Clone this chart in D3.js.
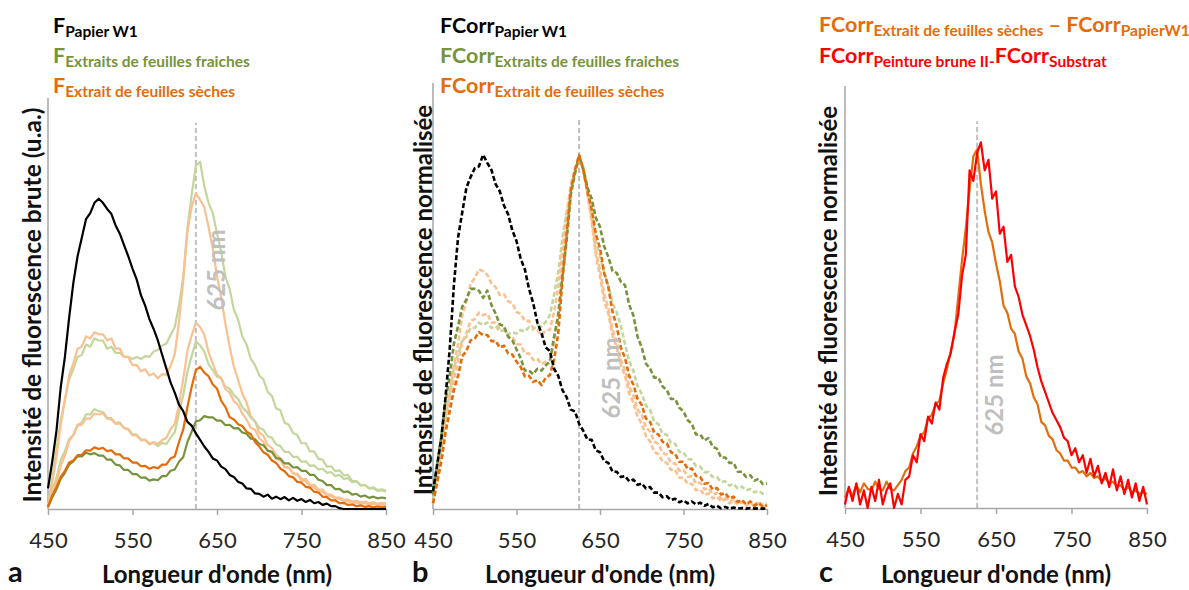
<!DOCTYPE html>
<html><head><meta charset="utf-8">
<script src="https://cdn.jsdelivr.net/npm/d3@7"></script>
<style>body{margin:0;background:#fff;} svg{display:block;font-family:Lato,'Open Sans',sans-serif;}</style>
</head><body>
<svg id="chart" width="1189" height="590"></svg>
<script>
const wavelengths = [450,455,460,465,470,475,480,485,490,495,500,505,510,515,520,525,530,535,540,545,550,555,560,565,570,575,580,585,590,595,600,605,610,615,620,625,630,635,640,645,650,655,660,665,670,675,680,685,690,695,700,705,710,715,720,725,730,735,740,745,750,755,760,765,770,775,780,785,790,795,800,805,810,815,820,825,830,835,840,845,850];
const xTicks = [450,550,650,750,850];
const refWavelength = 625;

// Panel a : raw intensity (u.a.)
const aPapier = [5,11.5,19,29.5,37,46.5,55,61.5,66,70.5, 72,74.5,75.5,74.5,73,71.8,69,67,64.2,61.5, 58.5,55.8,52,49.5,46.2,43.8,41,37.6,34.2,30.8, 28.3,25.4,23.8,21.2,20.3,18.4,16.8,15.2,13.9,12.3, 11.8,10.3,9.7,8.3,7.8,6.6,6.2,5,4.9,3.8, 3.7,3,3.5,2.5,3,2.4,2.9,2.1,2.7,2, 2.4,1.7,2.2,1.4,1.7,1,1.3,0.7,0.7,0.2, 0,0,0,0,0,0,0,0,0,0,0];
const aFraiches1 = [0.5,7.5,14.5,21.5,26.5,31.5,34,37,37.5,40, 39.5,41.5,41,41,39,39.5,38,38,37,37, 36.5,37,36.5,37.2,37,38.3,38.7,39.8,40.2,42.3, 44.3,49.5,56.5,68.3,76.5,83.5,84.5,78.5,74.5,72, 67,62.5,56.5,53.5,48.5,46,42,40,36.5,35, 32.5,31.5,28.5,27.5,24.5,24,21,20.5,18.5,18, 16,16,14,14,12.2,12,10.3,10.4,9.2,9.4, 8.2,8.3,6.8,6.8,5.8,5.8,5,5.1,4.4,4.6,4.2];
const aSeches1 = [0.5,6.5,12.5,20.5,26.5,32.5,35.5,39,39.5,42, 41.5,43,42.5,42.5,41,41.5,39,39,37,37, 35,35,33.5,34,32.5,33,31.8,32.8,32.7,34.8, 37.6,45.5,55.5,67.5,73.5,76.8,75.2,73.4,68.6,63.4, 56.6,51.4,45,39.4,34.6,31.4,28,25.9,22.6,21.3, 18.6,17.8,15.6,14.8,13.2,12.3,10.2,10.1,8.7,8.3, 6.9,6.8,5.5,5.3,4.2,4.3,3.3,3.2,2.5,2.5, 1.9,1.9,1.5,1.6,1.3,1.4,1.1,1.3,1,1.1,1];
const aFraiches2 = [0.5,4.5,7.5,12,14,17,18,20.5,21,23, 23,24.3,23.8,23.6,22.2,22.1,20.9,21.1,19.7,19.5, 18.2,18.1,16.9,16.9,15.9,16.1,15.3,16.1,15.8,17.3, 18.7,23.4,27.6,33.4,37.2,40.8,39.8,38.3,35.2,33.8, 32.2,31.8,29.7,29.3,27.7,26.8,24.7,23.8,22.2,21.3, 19.7,19.3,17.7,17.3,15.7,15.3,13.9,13.9,12.7,12.7, 11.5,11.6,10.5,10.6,9.6,9.8,8.8,9,8,8.3, 7.3,7.5,6.5,6.7,5.7,5.9,5,5.3,4.6,4.8,4.5];
const aSeches2 = [0.5,4,6.5,10.5,13,16.5,18,20.3,20.5,22, 22,23.2,23,23.3,22,21.8,20.7,20.8,19.7,19.3, 17.9,17.9,16.7,16.8,15.7,16.3,15.8,16.8,17.3,19.4, 20.7,25.5,31.6,38.5,42.2,45.3,44.3,42.4,38.2,35.4, 32.7,31.8,29.2,28.3,26.2,25.3,23.2,21.8,19.7,19.3, 17.2,16.3,14.2,13.8,12.2,11.8,10.2,10,8.7,8.6, 7.3,7.3,5.9,5.9,4.7,4.7,3.6,3.5,2.8,2.8, 2.2,2.3,1.8,2,1.6,1.8,1.4,1.7,1.3,1.5,1.4];
const aSeches3 = [0.5,3.3,5.3,7.8,9.3,11.3,11.8,13.1,13.2,14.3, 14.2,15,14.6,14.9,14.1,14.3,13.3,13.3,12.3,12.3, 11.3,11.3,10.4,10.5,9.8,10.2,9.9,10.8,10.8,12.3, 12.8,16.3,19.3,24.8,29.7,33.8,34.6,33.2,32.3,30.3, 29.3,26.3,24.8,22.3,21.8,20.6,20.2,18.8,18.2,16.3, 15.2,13.8,13.2,11.8,11.2,9.8,9.2,8,7.7,6.6, 6.4,5.4,5.2,4.2,4,3,2.9,2.1,2.1,1.4, 1.5,1,1.1,0.7,0.9,0.5,0.7,0.4,0.6,0.4,0.5];
const aFraiches3 = [0.5,2.8,4.8,7.3,8.8,10.8,11.6,12.8,12.8,13.7, 13.3,13.6,13,13,12,12,10.8,10.6,9.5,9.5, 8.5,8.5,7.6,7.7,6.9,7.2,7,8,8,9.3, 9.6,11.5,12.6,16.3,18.8,21.3,21.6,22.6,22.3,22.3, 21.5,21.5,20.4,20.5,19.6,19.7,18.6,18.3,17.1,17, 15.8,15.5,14.2,13.9,12.4,12.2,11.1,11.1,10.1,10.2, 9.3,9.3,8.3,8.3,7.1,6.8,5.8,5.8,4.8,4.9, 4.1,4.3,3.5,3.7,3,3.3,2.7,3,2.6,2.8,2.6];

// Panel b : normalised (%)
const bPapier = [5,12.5,20,31.5,45,63,76.5,83.5,90.5,93.5, 96,96.5,99.8,97.5,95.5,91.5,89.5,85.5,83,78.5, 75.5,70.5,67.5,62,58,52.5,49.5,45.5,44.5,39.5, 37.5,33.5,31.5,28,27.5,24,22,19.5,19.5,16.5, 16,13.5,13,10.5,10.5,9,9.3,7.8,8.3,6.8, 7.2,5.8,6.2,4.6,4.6,3.3,3.6,2.5,2.9,1.9, 2.4,1.6,2.1,1.3,1.8,0.9,1.4,0.5,0.9,0.2, 0.6,0.1,0.4,0.1,0.3,0.1,0.3,0.1,0.2,0.1,0.2];
const bFraiches1 = [4,12.5,20.5,30.5,37.5,46.5,51.5,57,59,62, 62,61.5,59.5,61.5,57.5,55,52,51.5,48.5,47.5, 45,42.5,39,39,38,39.5,39,40.5,41.5,48.5, 54.5,65.5,75.5,88.5,94.5,99.5,95.5,90.5,87.5,82, 79.5,74,71,67,66.5,64,63,57.5,54.5,48.5, 45.5,41,39.5,37,37,34.5,33.5,31,31,28.5, 27.5,25,24,21,21,19.3,20,17.5,17,14.5, 14.5,13,13,10.5,10.5,9,9.5,8,8.5,7,7.2];
const bFraiches2 = [2.5,9.5,16.5,25.5,32.5,39.5,43.5,47.5,48.5,51, 51,52.5,51.8,52.5,51,51.5,50,50.4,49.2,49.8, 49.4,50.4,50,51.2,50.6,51.8,51.4,52.7,54.6,60.4, 66.6,76.4,83.6,90.4,95.6,99,96.4,90.6,84.4,75.6, 71.4,66.6,63,58,55.4,51.6,46.4,41.6,38.9,34.6, 32.4,29.1,27.9,24.6,23.9,21.1,20.9,18.6,18.4,16.1, 15.9,14.1,13.9,12.1,11.9,10.4,10.4,9,9,7.6, 7.8,6.6,7,5.8,6.3,5.3,5.6,4.7,5.1,4.3,4.4];
const bSeches1 = [1.6,8.5,15.5,25.5,32.5,40.5,46.5,54.5,58.5,63.5, 65,67.5,67,66,63.5,62.5,60.3,60.5,58.5,58, 55.5,55,53,53,51,50.5,49,50.3,50.5,55.5, 62.5,73.5,82.5,91.5,95.5,99.5,95.5,88.5,81,71.5, 65.5,58.5,55,49,45.5,40.5,37.5,32.5,30,26, 24,20.5,19,16,15.5,13.3,13,11,11,8.8, 8.9,7,7.1,5.3,5.5,3.9,4.4,3,3.5,2.1, 2.8,1.6,2.4,1.2,2,0.9,1.8,0.7,1.6,0.6,1.1];
const bSeches2 = [1.6,7.5,13.5,22.5,28.5,36.5,41.5,47,49.5,53, 53.5,55.3,54.6,55,52.5,52.5,50.9,50.8,48.5,48.5, 46.5,46.3,43.8,43.8,42,42.3,40.8,41.5,42,46.5, 55.5,69.5,79.5,89.5,94.5,99,96,89.5,82,72.5, 67.5,60.5,56.5,50.5,47,42,39,34.5,32,28, 26.5,23,21.8,19,18.3,15.8,15.3,13,12.8,10.8, 11,9.1,9.2,7.2,7.4,5.6,5.9,4.1,4.5,2.9, 3.5,2.1,2.8,1.8,2.4,1.3,2.2,1.2,2.1,1.1,1.6];
const bSeches3 = [1.6,7.5,13.5,21.5,27.5,33.5,37.5,43,44.5,47.5, 48,49.8,49,49,47.3,47.3,45.5,46,43.8,43.5, 41.5,40,37.3,37.5,35.8,36.3,34.9,37,37.7,42, 49.5,64.5,77.5,89.5,95.5,99.7,95.5,89.5,84.5,77.5, 73.5,66.5,62.5,55.5,51.5,45.5,42.5,37.5,35,31, 29.3,25.5,24.5,21.5,21,18.9,18.5,16,15.5,13.3, 13.3,11.3,11.4,9.3,9,7.1,7.3,5.5,5.9,4.1, 4.5,3,3.5,2,2.6,1.3,2.1,0.9,1.7,0.6,1.1];

// Panel c : normalised differences (%)
const cSechesMinusPapier = [3,5.5,3.5,6.5,4.5,7,5.5,5,7.5,5.5, 5,7.5,5.5,5,6.5,8,10.5,11.5,15.5,17.5, 20.5,21.5,25.5,26.5,29.5,30.5,35.5,39.5,44.5,49.5, 60,70.5,79.5,90.5,100,102,92,84.5,78.5,75.5, 69.5,64.5,57.5,55.5,51,49.5,44.5,42.5,37.5,35.5, 31.5,29.5,24.5,23.5,20.5,19.5,16.5,15.5,13.5,13.5, 11.5,11.5,10,10.5,9,10,8.5,9,7.5,8.5, 7,7.5,6,6.5,5,6,4.5,5,4,4.5,4];
const cPeintureMinusSubstrat = [1,6,2,7,1,5,0,6,2,8, 1,5,7,0,4,1,8,9,15,13, 21,19,26,24,30,28,37,41,44,50, 55,66,72,96,93,101,104,96,99,88, 90,78,80,70,72,63,60,55,52,49, 45,40,36,33,30,27,25,23,20,19, 15,17,13,15,10,14,9,12,7,10, 6,11,5,9,4,8,3,7,2,6,1];

const C = {black:'#000000', lg:'#C3D69B', lo:'#FAC090', dg:'#77933C', do:'#E46C0A', red:'#FF0000', ref:'#BFBFBF', axis:'#A6A6A6'};

const panels = [
  {x0:48, x1:386, yb:509, yt:98, ymax:100, dash:null, width:2.2,
   series:[[aFraiches1,C.lg],[aSeches1,C.lo],[aFraiches2,C.lg],[aSeches2,C.lo],[aFraiches3,C.dg],[aSeches3,C.do],[aPapier,C.black]],
   refTop:94, refLab:[217,270], letter:'a', letterX:8,
   ytitle:'Intensité de fluorescence brute (u.a.)', ytSize:24.5, yt_x:32, yt_y:305},
  {x0:433, x1:767, yb:509, yt:83, ymax:120, dash:'5,2.5', width:2.6,
   series:[[bFraiches2,C.lg],[bSeches1,C.lo],[bSeches2,C.lo],[bFraiches1,C.dg],[bSeches3,C.do],[bPapier,C.black]],
   refTop:110, refLab:[612,378], letter:'b', letterX:412,
   ytitle:'Intensité de fluorescence normalisée', ytSize:24, yt_x:424, yt_y:300},
  {x0:845, x1:1147, yb:508, yt:86, ymax:120, dash:null, width:2.2,
   series:[[cSechesMinusPapier,C.do],[cPeintureMinusSubstrat,C.red]],
   refTop:110, refLab:[995,395], letter:'c', letterX:819,
   ytitle:'Intensité de fluorescence normalisée', ytSize:24, yt_x:829, yt_y:301}
];

const svg = d3.select('#chart');

panels.forEach(p => {
  const x = d3.scaleLinear().domain([450,850]).range([p.x0,p.x1]);
  const y = d3.scaleLinear().domain([0,p.ymax]).range([p.yb,p.yt]);
  const g = svg.append('g');

  g.append('line').attr('x1',p.x0).attr('x2',p.x0).attr('y1',p.yb).attr('y2',p.yt)
    .attr('stroke',C.axis).attr('stroke-width',1.5);

  const ax = g.append('g').attr('transform',`translate(0,${p.yb})`)
    .call(d3.axisBottom(x).tickValues(xTicks).tickSize(6).tickSizeOuter(0).tickPadding(17).tickFormat(d3.format('d')));
  ax.select('.domain').attr('stroke',C.axis).attr('stroke-width',1.5);
  ax.selectAll('.tick line').attr('stroke',C.axis).attr('stroke-width',1.5);
  ax.selectAll('.tick text').attr('font-size',22).attr('font-family','Lato, sans-serif').attr('fill','#262626');

  g.append('line').attr('x1',x(refWavelength)).attr('x2',x(refWavelength))
    .attr('y1',y(0)).attr('y2',y(p.refTop))
    .attr('stroke',C.ref).attr('stroke-width',2).attr('stroke-dasharray','5,3');

  const line = d3.line().x((d,i)=>x(wavelengths[i])).y(d=>y(d));
  p.series.forEach(([vals,col]) => {
    const path = g.append('path').datum(vals).attr('d',line)
      .attr('fill','none').attr('stroke',col).attr('stroke-width',p.width)
      .attr('stroke-linejoin','round');
    if (p.dash) path.attr('stroke-dasharray',p.dash);
  });

  g.append('text').attr('transform',`translate(${p.refLab[0]},${p.refLab[1]}) rotate(-90)`)
    .attr('text-anchor','middle').attr('dy','0.35em')
    .attr('font-size',24).attr('font-weight','bold').attr('fill',C.ref).text('625 nm');

  g.append('text').attr('transform',`translate(${p.yt_x},${p.yt_y}) rotate(-90)`)
    .attr('text-anchor','middle').attr('dy','0.35em')
    .attr('font-size',p.ytSize).attr('font-weight','bold').attr('fill','#111').text(p.ytitle);

  g.append('text').attr('x',(p.x0+p.x1)/2).attr('y',583).attr('text-anchor','middle')
    .attr('font-size',24).attr('font-weight','bold').attr('fill','#111').text("Longueur d'onde (nm)");

  g.append('text').attr('x',p.letterX).attr('y',582).attr('font-size',29).attr('font-weight','bold')
    .attr('fill','#111').text(p.letter);
});

function legend(x, yBase, parts) {
  const t = svg.append('text').attr('x',x).attr('y',yBase).attr('font-weight','bold');
  let shift = 0;
  parts.forEach(([txt,big,col]) => {
    const target = big ? 0 : 4;
    t.append('tspan').attr('dy',target-shift).attr('font-size',big?21.5:15.5).attr('fill',col)
      .attr('xml:space','preserve').text(txt);
    shift = target;
  });
}
legend(53,33,[['F',1,C.black],['Papier W1',0,C.black]]);
legend(53,63,[['F',1,C.dg],['Extraits de feuilles fraiches',0,C.dg]]);
legend(53,93,[['F',1,C.do],['Extrait de feuilles sèches',0,C.do]]);
legend(440,33,[['FCorr',1,C.black],['Papier W1',0,C.black]]);
legend(440,63,[['FCorr',1,C.dg],['Extraits de feuilles fraiches',0,C.dg]]);
legend(440,93,[['FCorr',1,C.do],['Extrait de feuilles sèches',0,C.do]]);
legend(819,32,[['FCorr',1,C.do],['Extrait de feuilles sèches',0,C.do],[' – FCorr',1,C.do],['PapierW1',0,C.do]]);
legend(819,63,[['FCorr',1,C.red],['Peinture brune II-',0,C.red],['FCorr',1,C.red],['Substrat',0,C.red]]);
</script>
</body></html>
